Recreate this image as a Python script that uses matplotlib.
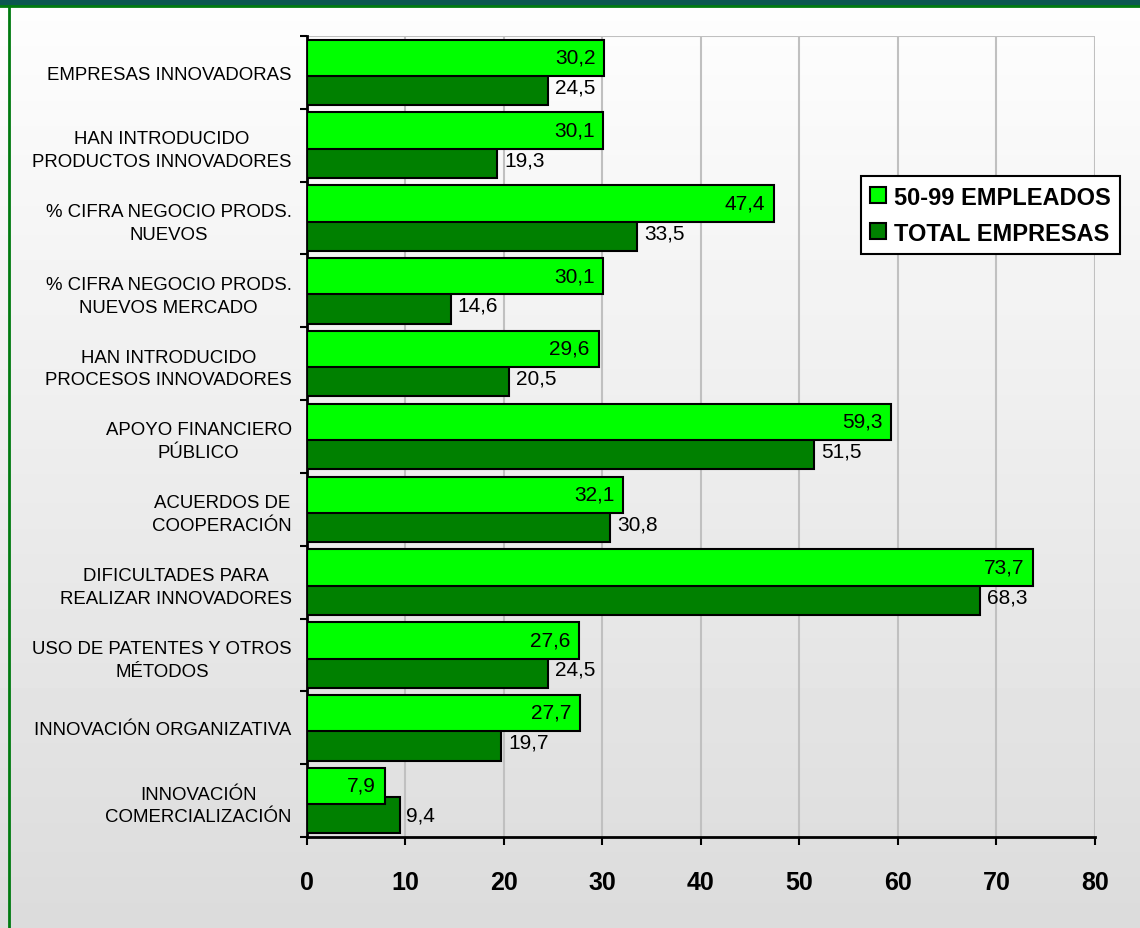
import numpy as np
import matplotlib.pyplot as plt
from matplotlib.lines import Line2D

categories = [
    'EMPRESAS INNOVADORAS',
    'HAN INTRODUCIDO\nPRODUCTOS INNOVADORES',
    '% CIFRA NEGOCIO PRODS.\nNUEVOS',
    '% CIFRA NEGOCIO PRODS.\nNUEVOS MERCADO',
    'HAN INTRODUCIDO\nPROCESOS INNOVADORES',
    'APOYO FINANCIERO\nPÚBLICO',
    'ACUERDOS DE\nCOOPERACIÓN',
    'DIFICULTADES PARA\nREALIZAR INNOVADORES',
    'USO DE PATENTES Y OTROS\nMÉTODOS',
    'INNOVACIÓN ORGANIZATIVA',
    'INNOVACIÓN\nCOMERCIALIZACIÓN',
]
emp_50_99 = [30.2, 30.1, 47.4, 30.1, 29.6, 59.3, 32.1, 73.7, 27.6, 27.7, 7.9]
total_emp = [24.5, 19.3, 33.5, 14.6, 20.5, 51.5, 30.8, 68.3, 24.5, 19.7, 9.4]
series_names = ['50-99 EMPLEADOS', 'TOTAL EMPRESAS']

plt.rcParams['font.family'] = ['Liberation Sans', 'DejaVu Sans']

fig = plt.figure(figsize=(11.4, 9.29), dpi=100)

# background gradient
bg = fig.add_axes([0, 0, 1, 1], zorder=-10)
grad = np.linspace(0.995, 0.86, 256).reshape(-1, 1)
bg.imshow(grad, cmap='gray', vmin=0, vmax=1, aspect='auto', extent=[0, 1, 0, 1])
bg.set_xlim(0, 1)
bg.set_ylim(0, 1)
bg.axis('off')
# frame lines
bg.add_artist(Line2D([0, 1], [0.997, 0.997], color='#0b5750', lw=5, transform=bg.transAxes))
bg.add_artist(Line2D([0, 1], [0.9925, 0.9925], color='#007a10', lw=2, transform=bg.transAxes))
bg.add_artist(Line2D([0.0079, 0.0079], [0, 0.993], color='#007a10', lw=2, transform=bg.transAxes))

ax = fig.add_axes([0.2693, 0.098, 0.6912, 0.8622])
ax.set_facecolor('none')

y = np.arange(len(categories))
h = 0.5
b_tot = ax.barh(y + 0.2, total_emp, height=h, color='#008000', edgecolor='black', lw=1.5,
                label=series_names[1], zorder=3)
b_emp = ax.barh(y - 0.2, emp_50_99, height=h, color='#00ff00', edgecolor='black', lw=1.5,
                label=series_names[0], zorder=4)

for i in range(len(categories)):
    ax.text(emp_50_99[i] - 0.9, y[i] - 0.21, f'{emp_50_99[i]:.1f}'.replace('.', ','),
            ha='right', va='center', fontsize=15, zorder=5)
    ax.text(total_emp[i] + 0.7, y[i] + 0.2, f'{total_emp[i]:.1f}'.replace('.', ','),
            ha='left', va='center', fontsize=15, zorder=5)

ax.set_xlim(0, 80)
ax.set_ylim(len(categories) - 0.5, -0.5)
ax.set_xticks(np.arange(0, 81, 10))
ax.tick_params(axis='x', labelsize=18, length=6, width=1.5, pad=18)
for lbl in ax.get_xticklabels():
    lbl.set_fontweight('bold')
ax.set_yticks(y)
ax.set_yticklabels(categories, fontsize=13.4, multialignment='center', linespacing=1.45)
ax.tick_params(axis='y', length=0, pad=11)
ax.set_yticks(np.arange(-0.5, len(categories), 1), minor=True)
ax.tick_params(axis='y', which='minor', length=5, width=1.5)

ax.grid(axis='x', color='#c0c0c0', lw=1.5, zorder=0)
ax.set_axisbelow(True)
for s in ['top', 'right']:
    ax.spines[s].set_visible(False)
ax.spines['left'].set_linewidth(2)
ax.spines['bottom'].set_linewidth(2)
ax.axhline(-0.5, color='#c0c0c0', lw=1.5, zorder=0)

leg = ax.legend([b_emp, b_tot], series_names, loc='upper left',
                bbox_to_anchor=(0.703, 0.825),
                prop={'weight': 'bold', 'size': 17}, frameon=True, fancybox=False,
                handlelength=0.65, handleheight=0.65, handletextpad=0.35,
                borderpad=0.4, labelspacing=0.55, borderaxespad=0)
leg.get_frame().set_edgecolor('black')
leg.get_frame().set_linewidth(1.5)
leg.get_frame().set_facecolor('white')
leg.get_frame().set_alpha(1)

fig.savefig('out.png', dpi=100)
